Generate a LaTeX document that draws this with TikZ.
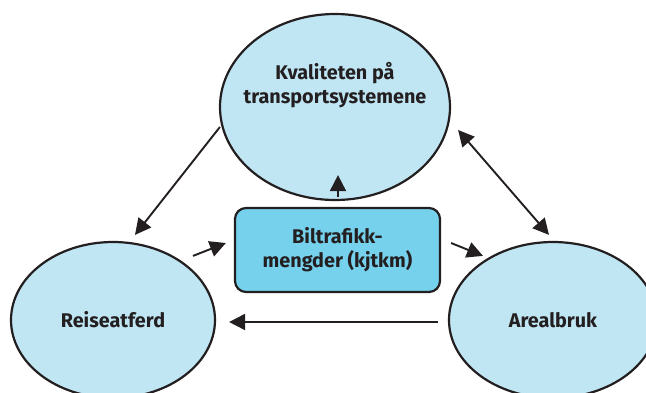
\documentclass[tikz,border=0pt]{standalone}
\usepackage{fontspec}
\setmainfont{Fira Sans}
\usetikzlibrary{shapes.geometric,arrows.meta,positioning}
\definecolor{ovalblue}{HTML}{C0E6F4}
\definecolor{boxblue}{HTML}{76D1EC}
\definecolor{inkdark}{HTML}{231F20}

\begin{document}
\begin{tikzpicture}[x=1pt, y=-1pt,
  oval/.style={ellipse, draw=inkdark, line width=2.2pt, fill=ovalblue, inner xsep=-30pt, inner ysep=0pt, align=center,
    font=\fontsize{19.8}{24}\selectfont\bfseries, text=inkdark},
  midbox/.style={rectangle, draw=inkdark, line width=2.2pt, fill=boxblue, rounded corners=11pt,
    minimum width=205pt, minimum height=84pt, align=center, font=\fontsize{19.8}{24}\selectfont\bfseries, text=inkdark},
  arr/.style={-{Triangle[length=16pt, width=16pt]}, line width=1.9pt, inkdark},
  dblarr/.style={{Triangle[length=16pt, width=16pt]}-{Triangle[length=16pt, width=16pt]}, line width=1.9pt, inkdark}
]
  \useasboundingbox (0,0) rectangle (646,392);
  \clip (0,0) rectangle (646,392);

  \node[oval, minimum width=230pt, minimum height=186pt] (kval) at (335,107) {Kvaliteten på\\transportsystemene\\[24pt]};
  \node[oval, minimum width=204pt, minimum height=156pt] (reise) at (113,320) {Reiseatferd};
  \node[oval, minimum width=208pt, minimum height=156pt] (areal) at (553,320) {Arealbruk};
  \node[midbox] (bil) at (337.5,250) {Biltrafikk-\\mengder (kjtkm)};

  \draw[arr] ([shift={(1,20)}]kval.west) -- ([shift={(22,-6)}]reise.north);
  \draw[dblarr] ([shift={(7,23)}]kval.east) -- ([shift={(-4,-6)}]areal.north);
  \draw[arr] ([shift={(0.5,-10)}]bil.north) -- ([shift={(3,-26)}]kval.south);
  \draw[arr] ([shift={(80,15)}]reise.north) -- ([shift={(-8,-7)}]bil.west);
  \draw[arr] ([shift={(10,-7)}]bil.east) -- ([shift={(-70,15)}]areal.north);
  \draw[arr] ([shift={(-10,2)}]areal.west) -- ([shift={(13,2)}]reise.east);
\end{tikzpicture}
\end{document}
